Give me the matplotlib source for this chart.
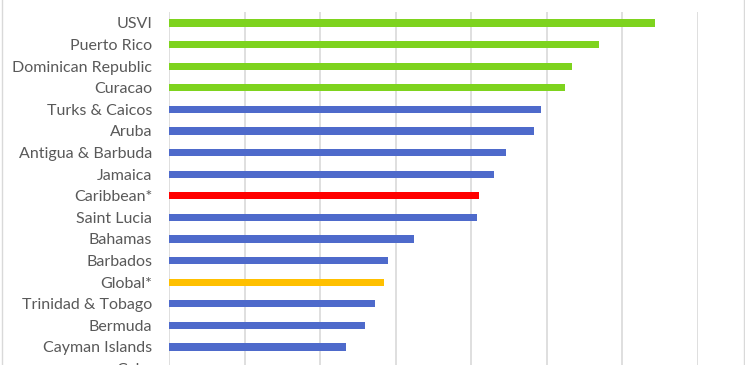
import matplotlib
matplotlib.use("Agg")
import matplotlib.pyplot as plt
from matplotlib.patches import Rectangle

# ── data (top to bottom) ──────────────────────────────────────────────────────
countries = [
    "USVI", "Puerto Rico", "Dominican Republic", "Curacao", "Turks & Caicos",
    "Aruba", "Antigua & Barbuda", "Jamaica", "Caribbean*", "Saint Lucia",
    "Bahamas", "Barbados", "Global*", "Trinidad & Tobago", "Bermuda",
    "Cayman Islands", "Cuba",
]
values = [64.4, 57.0, 53.4, 52.5, 49.3, 48.4, 44.7, 43.0, 41.0, 40.8,
          32.5, 29.0, 28.5, 27.3, 26.0, 23.4, 20.0]
groups = ["top", "top", "top", "top", "other", "other", "other", "other",
          "caribbean", "other", "other", "other", "global", "other", "other",
          "other", "other"]

GROUP_COLORS = {
    "top": "#7ED31E",
    "other": "#4E6ACB",
    "caribbean": "#FF0000",
    "global": "#FFC000",
}
GRID = "#D9D9D9"
LABEL = "#595959"

W, H = 745, 365
fig = plt.figure(figsize=(W / 100, H / 100), dpi=100, facecolor="white")

# plot area runs past the bottom edge, the reference is cropped there
left, right = 169 / W, 697.5 / W
top, bottom = 1 - 12.2 / H, 1 - 379.4 / H
ax = fig.add_axes([left, bottom, right - left, top - bottom])

ypos = list(range(len(countries)))
ax.barh(ypos, values, height=0.34,
        color=[GROUP_COLORS[g] for g in groups], zorder=3)

ax.set_xlim(0, 70)
ax.set_ylim(len(countries) - 0.5, -0.5)
ax.set_xticks(range(0, 71, 10))
ax.set_xticklabels([])
ax.set_yticks(ypos)
ax.set_yticklabels(countries, fontsize=11.5, color=LABEL, family="Lato")
ax.tick_params(axis="both", length=0)
ax.tick_params(axis="y", pad=12)
ax.grid(axis="x", color=GRID, linewidth=1.2, zorder=0)
for spine in ax.spines.values():
    spine.set_visible(False)

# chart frame (top edge is off-canvas)
fig.patches.append(Rectangle((1.5 / W, -0.1), 742.5 / W, 1.3,
                             transform=fig.transFigure, fill=False,
                             edgecolor=GRID, linewidth=1.0))

fig.savefig("out.png", dpi=100, facecolor="white")
